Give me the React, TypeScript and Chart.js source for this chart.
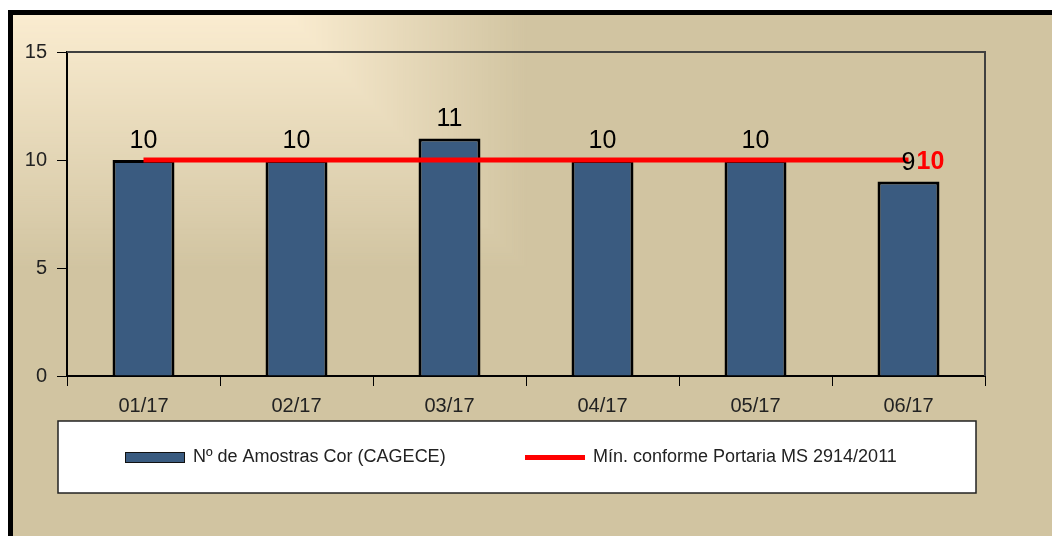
import React, { useEffect, useRef } from 'react';
import { Chart, registerables } from 'chart.js';

Chart.register(...registerables);

const categories = ['01/17', '02/17', '03/17', '04/17', '05/17', '06/17'];
const samples = [10, 10, 11, 10, 10, 9];
const minimum = [10, 10, 10, 10, 10, 10];
const yMin = 0;
const yMax = 15;
const yStep = 5;
const seriesNames = ['Nº de Amostras Cor (CAGECE)', 'Mín. conforme Portaria MS 2914/2011'];

const W = 1052;
const H = 536;
const FONT = "'Liberation Sans', Arial, sans-serif";
const BAR_COLOR = '#3A5B80';
const LINE_COLOR = '#FF0000';

const LIGHT = [250, 236, 208];
const TAN = [209, 196, 161];

function mix(t: number) {
  const c = LIGHT.map((v, i) => Math.round(v + (TAN[i] - v) * t));
  return `rgb(${c[0]},${c[1]},${c[2]})`;
}

const backgroundPlugin = {
  id: 'bg',
  beforeDraw(chart: any) {
    const ctx = chart.ctx;
    ctx.save();
    ctx.fillStyle = '#ffffff';
    ctx.fillRect(0, 0, W, H);
    ctx.fillStyle = '#000000';
    ctx.fillRect(8, 10, W - 8, H - 10);
    const x0 = 13;
    const y0 = 15;
    ctx.fillStyle = mix(1);
    ctx.fillRect(x0, y0, W - x0, H - y0);
    const N = 120;
    for (let i = N; i >= 0; i--) {
      const t = i / N;
      ctx.fillStyle = mix(t);
      ctx.fillRect(x0, y0, 277 + 238 * t, 2 + 253 * t);
    }
    ctx.restore();
  },
  beforeDatasetsDraw(chart: any) {
    const { ctx, chartArea } = chart;
    ctx.save();
    ctx.strokeStyle = '#404040';
    ctx.lineWidth = 2;
    ctx.beginPath();
    ctx.moveTo(chartArea.left, chartArea.top);
    ctx.lineTo(chartArea.right, chartArea.top);
    ctx.lineTo(chartArea.right, chartArea.bottom);
    ctx.stroke();
    ctx.restore();
  },
};

const labelPlugin = {
  id: 'labels',
  afterDatasetsDraw(chart: any) {
    const ctx = chart.ctx;
    ctx.save();
    const barMeta = chart.getDatasetMeta(0);
    ctx.fillStyle = '#000000';
    ctx.font = `25px ${FONT}`;
    ctx.textAlign = 'center';
    ctx.textBaseline = 'alphabetic';
    barMeta.data.forEach((bar: any, i: number) => {
      ctx.fillText(String(samples[i]), bar.x, bar.y - 12);
    });
    const lineMeta = chart.getDatasetMeta(1);
    const last = lineMeta.data[lineMeta.data.length - 1];
    ctx.fillStyle = LINE_COLOR;
    ctx.font = `bold 25px ${FONT}`;
    ctx.textAlign = 'left';
    ctx.fillText(String(minimum[minimum.length - 1]), last.x + 8, last.y + 9);
    ctx.restore();
  },
  afterDraw(chart: any) {
    const ctx = chart.ctx;
    ctx.save();
    ctx.fillStyle = '#ffffff';
    ctx.fillRect(58, 421, 918, 72);
    ctx.strokeStyle = '#222222';
    ctx.lineWidth = 1.5;
    ctx.strokeRect(58, 421, 918, 72);
    const cy = 457.5;
    ctx.fillStyle = BAR_COLOR;
    ctx.fillRect(125, 452, 60, 11);
    ctx.strokeStyle = '#111111';
    ctx.lineWidth = 1;
    ctx.strokeRect(125.5, 452.5, 59, 10);
    ctx.strokeStyle = LINE_COLOR;
    ctx.lineWidth = 5;
    ctx.beginPath();
    ctx.moveTo(525, cy);
    ctx.lineTo(585, cy);
    ctx.stroke();
    ctx.fillStyle = '#222222';
    ctx.font = `18px ${FONT}`;
    ctx.textAlign = 'left';
    ctx.textBaseline = 'middle';
    ctx.fillText(seriesNames[0], 193, cy);
    ctx.fillText(seriesNames[1], 593, cy);
    ctx.restore();
  },
};

export default function App() {
  const ref = useRef<HTMLCanvasElement | null>(null);
  useEffect(() => {
    if (!ref.current) return;
    const chart = new Chart(ref.current, {
      type: 'bar',
      data: {
        labels: categories,
        datasets: [
          {
            type: 'bar',
            label: seriesNames[0],
            data: samples,
            backgroundColor: BAR_COLOR,
            borderColor: '#000000',
            borderWidth: 3,
            barPercentage: 0.405,
            categoryPercentage: 1,
            order: 1,
          } as any,
          {
            type: 'line',
            label: seriesNames[1],
            data: minimum,
            borderColor: LINE_COLOR,
            backgroundColor: LINE_COLOR,
            borderWidth: 5,
            pointRadius: 0,
            fill: false,
            order: 0,
          } as any,
        ],
      },
      options: {
        animation: false,
        responsive: false,
        devicePixelRatio: 1,
        layout: { padding: { left: 0, right: W - 985, top: 52, bottom: 120 } },
        plugins: { legend: { display: false }, tooltip: { enabled: false } },
        scales: {
          x: {
            grid: {
              offset: true,
              drawOnChartArea: false,
              drawTicks: true,
              tickLength: 10,
              color: '#000000',
              lineWidth: 1,
            },
            border: { display: true, color: '#000000', width: 2 },
            ticks: {
              color: '#222222',
              font: { family: FONT, size: 20 },
              padding: 8,
              maxRotation: 0,
              autoSkip: false,
            },
            afterFit: (s: any) => {
              s.height = 40;
            },
          },
          y: {
            min: yMin,
            max: yMax,
            ticks: {
              stepSize: yStep,
              color: '#222222',
              font: { family: FONT, size: 20 },
              padding: 10,
            },
            grid: {
              drawOnChartArea: false,
              drawTicks: true,
              tickLength: 10,
              color: '#000000',
              lineWidth: 1,
            },
            border: { display: true, color: '#000000', width: 2 },
            afterFit: (s: any) => {
              s.width = 67;
            },
          },
        },
      } as any,
      plugins: [backgroundPlugin, labelPlugin],
    });
    return () => chart.destroy();
  }, []);
  return (
    <div style={{ position: 'fixed', left: 0, top: 0, width: W, height: H }}>
      <canvas ref={ref} width={W} height={H} style={{ display: 'block', width: W, height: H }} />
    </div>
  );
}
